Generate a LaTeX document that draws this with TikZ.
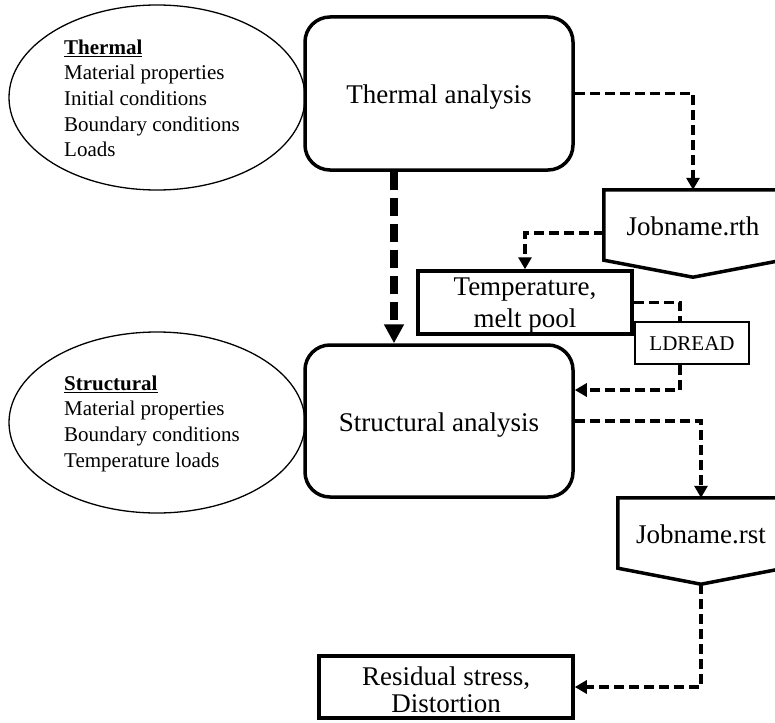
\documentclass[tikz,border=0pt]{standalone}
\usepackage{fontspec}
\setmainfont{Liberation Serif}
\usetikzlibrary{arrows.meta,shapes.geometric}
\begin{document}
\begin{tikzpicture}[x=1pt,y=-1pt,
  bigbox/.style={draw, line width=3.5pt, rounded corners=25pt, minimum width=268pt, inner sep=0pt,
    font=\fontsize{27}{32}\selectfont, text height=20pt, text depth=0pt},
  rectbox/.style={draw, line width=3.5pt, inner sep=0pt},
  inputbox/.style={draw, ellipse, line width=1.3pt, minimum width=296pt, inner sep=0pt},
  listtext/.style={align=left, anchor=north west, inner sep=0pt, font=\fontsize{21}{25.6}\selectfont},
  boxtext/.style={align=center, anchor=north, inner sep=0pt, font=\fontsize{27}{32}\selectfont},
  filebox/.style={inner sep=0pt, minimum height=70pt, font=\fontsize{27}{32}\selectfont, text height=20pt, text depth=0pt},
  fileline/.style={line width=3.5pt, line join=miter},
  conn/.style={line width=3.5pt, dash pattern=on 10pt off 5pt, -{Triangle[length=12pt,width=13pt]}},
  connplain/.style={line width=3.5pt, dash pattern=on 10pt off 5pt},
  bigconn/.style={line width=8pt, dash pattern=on 18pt off 8pt, -{Triangle[length=19pt,width=19pt]}}
]
\useasboundingbox (0,0) rectangle (775,722);

% input ellipses
\node[inputbox, minimum height=185pt] (thermin) at (157,97.5) {};
\node[listtext] (thermintext) at (64,36.1) {\strut\underline{\textbf{Thermal}}\\Material properties\\Initial conditions\\Boundary conditions\\Loads};
\node[inputbox, minimum height=181pt] (structin) at (157,422.5) {};
\node[listtext] (structintext) at (64,372.1) {\strut\underline{\textbf{Structural}}\\Material properties\\Boundary conditions\\Temperature loads};

% analysis boxes
\node[bigbox, minimum height=153pt] (thermal) at (439,93.5) {Thermal analysis};
\node[bigbox, minimum height=152pt] (structural) at (439,421) {Structural analysis};

% Jobname.rth
\node[filebox, minimum width=178pt] (rth) at (693,225) {Jobname.rth};
\coordinate (rthtip) at ([yshift=-17pt]rth.south);
\draw[fileline] (rth.south west) -- (rth.north west) -- (rth.north east) -- (rth.south east) -- (rthtip) -- cycle;

% Temperature box
\node[rectbox, minimum width=214pt, minimum height=63pt] (temp) at (525,302.5) {};
\node[boxtext] (temptext) at (525,272.6) {\strut Temperature,\\melt pool};

% LDREAD
\node[draw, line width=1.5pt, minimum width=114pt, minimum height=42pt, inner sep=0pt,
  font=\fontsize{21}{25}\selectfont, text height=14pt, text depth=0pt] (ldread) at (692,343) {LDREAD};

% Jobname.rst
\node[filebox, minimum width=166pt] (rst) at (701,533) {Jobname.rst};
\coordinate (rsttip) at ([yshift=-16pt]rst.south);
\draw[fileline] (rst.south west) -- (rst.north west) -- (rst.north east) -- (rst.south east) -- (rsttip) -- cycle;

% Residual box
\node[rectbox, minimum width=254pt, minimum height=62pt] (residual) at (446,687) {};
\node[boxtext, font=\fontsize{27}{27}\selectfont] (residualtext) at (446,666.1) {\strut Residual stress,\\Distortion};

% connectors
\draw[bigconn] ([xshift=-45pt]thermal.south) -- ([xshift=-45pt]structural.north);
\draw[conn] (thermal.east) -| (rth.north);
\draw[conn] ([yshift=-8pt]rth.west) -| (temp.north);
\draw[connplain] (temp.east) -| ([xshift=-12pt]ldread.north);
\draw[conn] ([xshift=-12pt]ldread.south) |- ([yshift=31pt]structural.east);
\draw[conn] (structural.east) -| (rst.north);
\draw[conn] (rsttip) |- (residual.east);
\end{tikzpicture}
\end{document}
